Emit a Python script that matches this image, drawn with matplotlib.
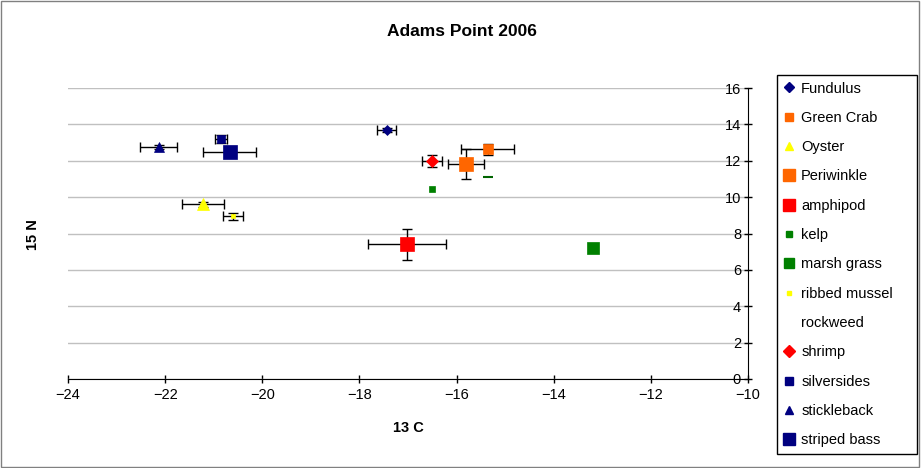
import matplotlib
matplotlib.use("Agg")
import matplotlib.pyplot as plt
from matplotlib.lines import Line2D
from matplotlib.patches import Rectangle

plt.rcParams['font.family'] = ['Liberation Sans', 'DejaVu Sans']

species = ["Fundulus", "Green Crab", "Oyster", "Periwinkle", "amphipod", "kelp",
           "marsh grass", "ribbed mussel", "rockweed", "shrimp", "silversides",
           "stickleback", "striped bass"]
c13 = [-17.44, -15.36, -21.22, -15.81, -17.02, -16.51, -13.2, -20.6, -15.36, -16.51, -20.85, -22.13, -20.67]
n15 = [13.68, 12.64, 9.6, 11.8, 7.4, 10.45, 7.2, 8.95, 11.1, 12.0, 13.2, 12.75, 12.5]
c13_err = [0.19, 0.55, 0.43, 0.37, 0.8, 0.0, 0.0, 0.2, 0.0, 0.2, 0.12, 0.38, 0.55]
n15_err = [0.1, 0.3, 0.15, 0.82, 0.85, 0.0, 0.0, 0.2, 0.0, 0.33, 0.2, 0.12, 0.1]
colors = ["#000080", "#FF6600", "#FFFF00", "#FF6600", "#FF0000", "#008000",
          "#008000", "#FFFF00", "#006400", "#FF0000", "#000080", "#000080", "#000080"]
markers = ["D", "s", "^", "s", "s", "s", "s", "s", "_", "D", "s", "^", "s"]
sizes = [5, 7, 8, 10, 10, 5, 9, 3, 7, 6, 6, 7, 10]

fig = plt.figure(figsize=(9.21, 4.68), dpi=100)
ax = fig.add_axes([68/921, 1-379/468, (748-68)/921, (379-88)/468])

for i in range(len(species)):
    ax.errorbar(c13[i], n15[i], xerr=c13_err[i] or None, yerr=n15_err[i] or None,
                fmt='none', ecolor='black', elinewidth=1, capsize=3.5, capthick=1, zorder=2)
    ax.plot(c13[i], n15[i], linestyle='none', marker=markers[i], ms=sizes[i],
            mfc=colors[i], mec=colors[i], mew=1.5 if markers[i] == '_' else 0.5, zorder=3)

ax.set_xlim(-24, -10)
ax.set_ylim(0, 16)
ax.set_xticks(range(-24, -9, 2))
ax.set_yticks(range(0, 17, 2))
ax.yaxis.grid(True, color="#C0C0C0", linewidth=1)
ax.set_axisbelow(True)
for s in ['top', 'right']:
    ax.spines[s].set_visible(False)
ax.spines['left'].set_position(('data', -10))
ax.spines['bottom'].set_position(('data', 0))
ax.tick_params(direction='inout', length=6, labelsize=10.5, colors='black', width=1)
ax.tick_params(axis='y', pad=2)
ax.set_xlabel("13 C", fontsize=10.5, fontweight='bold', labelpad=14)
fig.text(33/921, 1-235/468, "15 N", rotation=90, fontsize=10.5, fontweight='bold',
         ha='center', va='center')
fig.text(462/921, 1-31/468, "Adams Point 2006", fontsize=12.5, fontweight='bold',
         ha='center', va='center')

handles = []
for i in range(len(species)):
    if species[i] == "rockweed":
        handles.append(Line2D([], [], linestyle='none', marker='None'))
    else:
        ms = sizes[i] * 0.8 if sizes[i] > 6 else sizes[i]
        handles.append(Line2D([], [], linestyle='none', marker=markers[i], ms=ms,
                              mfc=colors[i], mec=colors[i]))
leg = fig.legend(handles, species, loc='upper left', mode='expand',
                 bbox_to_anchor=(777/921, 1-455/468, 140/921, 380/468),
                 bbox_transform=fig.transFigure, borderaxespad=0,
                 fontsize=10.5, labelspacing=1.05, handlelength=0.8, handletextpad=0.4,
                 borderpad=0.45, fancybox=False, edgecolor='black', framealpha=1)
leg.get_frame().set_linewidth(1)

fig.patches.append(Rectangle((0.001, 0.002), 0.997, 0.995, transform=fig.transFigure,
                             fill=False, edgecolor='#808080', linewidth=1))

fig.savefig("out.png", dpi=100)
